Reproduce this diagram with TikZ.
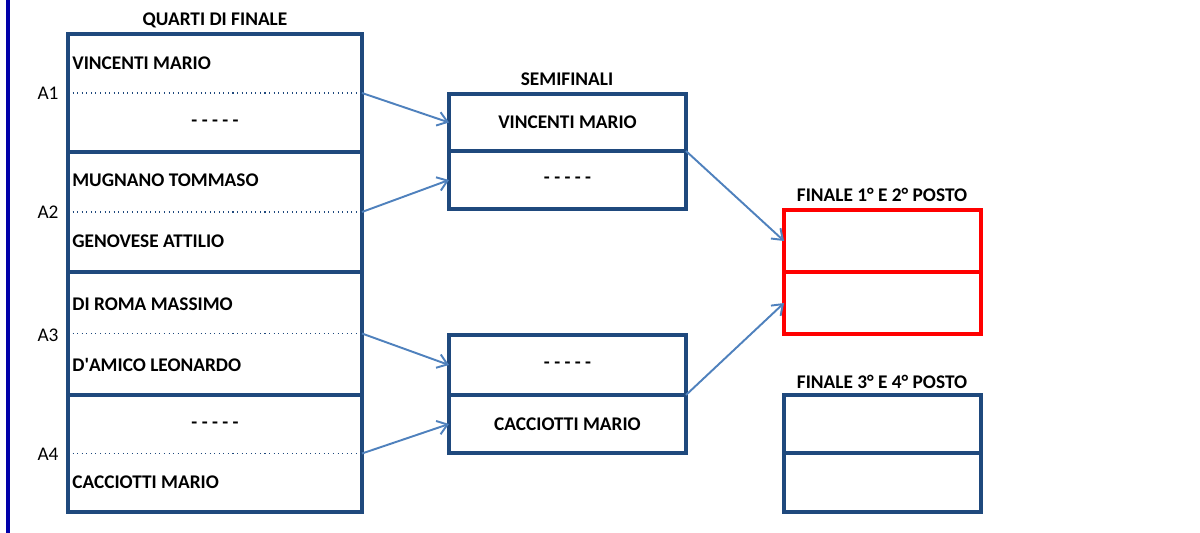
\documentclass[tikz,border=0pt]{standalone}
\usepackage{fontspec}
\setmainfont{Carlito}
\usepackage{tikz}
\usetikzlibrary{arrows.meta, positioning}
\definecolor{boxblue}{RGB}{31,73,125}
\definecolor{arrowblue}{RGB}{79,129,189}
\definecolor{barblue}{RGB}{0,0,170}
\tikzset{>={Straight Barb[length=5.5pt,width=8pt]}}

\begin{document}
\begin{tikzpicture}[x=0.02cm, y=-0.02cm,
	cell/.style={draw=boxblue, line width=2pt, inner sep=0pt, outer sep=0pt, font=\fontsize{11}{13}\selectfont\bfseries},
	redcell/.style={cell, draw=red},
	title/.style={font=\fontsize{11}{13}\selectfont\bfseries},
	player/.style={anchor=west, inner sep=0pt, font=\fontsize{11}{13}\selectfont\bfseries},
	lbl/.style={font=\fontsize{11}{13}\selectfont},
	sep/.style={boxblue, line width=0.6pt, dotted},
	link/.style={->, arrowblue, line width=1.1pt}]
	\useasboundingbox (0,0) rectangle (1200,533);
	\draw[barblue, line width=2pt] (8,0) -- (8,533);
	% quarti di finale
	\node[title] (tq) at (215,20) {QUARTI DI FINALE};
	\node[cell, minimum width=5.88cm, minimum height=2.36cm] (q1) at (215,93) {};
	\node[cell, minimum width=5.88cm, minimum height=2.4cm] (q2) at (215,212) {};
	\node[cell, minimum width=5.88cm, minimum height=2.46cm] (q3) at (215,333.5) {};
	\node[cell, minimum width=5.88cm, minimum height=2.34cm] (q4) at (215,453.5) {};
	\draw[sep] (q1.west) -- (q1.east); \draw[sep] (q2.west) -- (q2.east);
	\draw[sep] (q3.west) -- (q3.east); \draw[sep] (q4.west) -- (q4.east);
	\node[lbl] (a1) at (48,93) {A1};  \node[lbl] (a2) at (48,212) {A2};
	\node[lbl] (a3) at (48,335) {A3};  \node[lbl] (a4) at (48,454) {A4};
	\node[player] (p1) at (72,63) {VINCENTI MARIO};
	\node[title] (p2) at (215,123) {- - - - -};
	\node[player] (p3) at (72,180) {MUGNANO TOMMASO};
	\node[player] (p4) at (72,241) {GENOVESE ATTILIO};
	\node[player] (p5) at (72,304) {DI ROMA MASSIMO};
	\node[player] (p6) at (72,365) {D\textquotesingle AMICO LEONARDO};
	\node[title] (p7) at (215,425) {- - - - -};
	\node[player] (p8) at (72,482) {CACCIOTTI MARIO};
	% semifinali
	\node[title] (ts) at (567,79) {SEMIFINALI};
	\node[cell, minimum width=4.74cm, minimum height=1.14cm] (s1a) at (567.5,122.5) {VINCENTI MARIO};
	\node[cell, minimum width=4.74cm, minimum height=1.16cm] (s1b) at (567.5,180) {- - - - -};
	\node[cell, minimum width=4.74cm, minimum height=1.2cm] (s2a) at (567.5,365) {- - - - -};
	\node[cell, minimum width=4.74cm, minimum height=1.16cm] (s2b) at (567.5,424) {CACCIOTTI MARIO};
	% finali
	\node[title] (tf1) at (882,195) {FINALE 1° E 2° POSTO};
	\node[redcell, minimum width=3.94cm, minimum height=1.24cm] (f1a) at (882.5,241) {};
	\node[redcell, minimum width=3.94cm, minimum height=1.24cm] (f1b) at (882.5,303) {};
	\node[title] (tf2) at (882,382) {FINALE 3° E 4° POSTO};
	\node[cell, minimum width=3.94cm, minimum height=1.16cm] (f2a) at (882.5,424) {};
	\node[cell, minimum width=3.94cm, minimum height=1.18cm] (f2b) at (882.5,482.5) {};
	% collegamenti
	\draw[link] (q1.east) -- (s1a.west);
	\draw[link] (q2.east) -- (s1b.west);
	\draw[link] (q3.east) -- (s2a.west);
	\draw[link] (q4.east) -- (s2b.west);
	\draw[link] (s1a.south east) -- (f1a.west);
	\draw[link] (s2b.north east) -- (f1b.west);
\end{tikzpicture}
\end{document}
